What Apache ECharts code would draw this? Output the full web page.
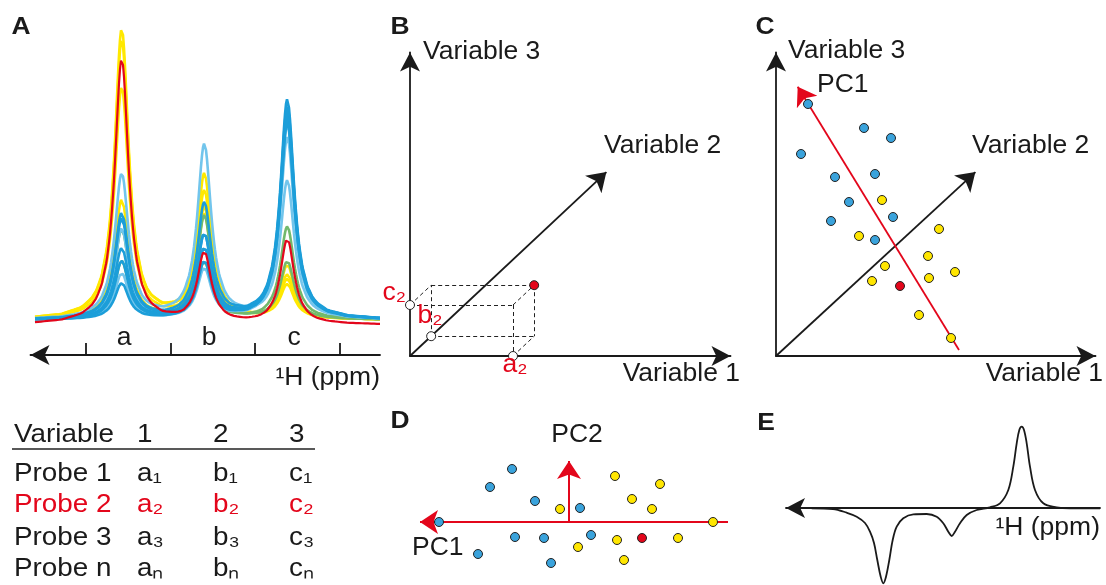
<!DOCTYPE html>
<html><head><meta charset="utf-8">
<script src="https://cdn.jsdelivr.net/npm/echarts@6/dist/echarts.min.js"></script>
<style>html,body{margin:0;padding:0;background:#fff}#chart{width:1106px;height:585px}</style>
</head><body><div id="chart"></div>
<script>
// ===== Panel A: 1H NMR spectra (peak heights, intensity units) =====
const YEL = '#ffe800', GRN = '#72b96c', LBL = '#72c5ec', BLU = '#1c9ed9', RED = '#e3061b';
const specColors = [YEL, YEL, YEL, YEL, GRN, GRN, LBL, LBL, LBL, BLU, BLU, BLU, BLU, BLU, RED];
const peakPos   = [8.67, 16.93, 25.23];            // centres of peaks a, b, c
const peakA     = [29.1, 28.0, 23.3, 12.0, 9.1, 5.8, 14.5, 9.1, 4.6, 10.6, 10.1, 7.1, 5.8, 3.6, 26.6];
const peakB     = [12.7, 14.4, 10.4, 11.2, 5.7, 10.4, 17.4, 7.0, 5.0, 11.5, 8.4, 8.4, 7.0, 5.7, 7.0];
const peakC     = [3.4, 3.9, 4.4, 5.4, 9.3, 5.8, 13.8, 19.6, 18.3, 22.0, 21.3, 20.8, 20.3, 19.8, 8.5];
const baseShift = [0, 0, 0, 0, 0, 0, 0, 0, 0, 0, 0, 0, 0, 0, -0.5];
// peak profile: relative height vs distance from the peak centre
const profileDist = [0, 0.1, 0.2, 0.3, 0.4, 0.5, 0.6, 0.7, 0.8, 1.0, 1.2, 1.5, 2.0, 2.5, 3.0, 4.0, 6.0, 9.0, 13, 18, 26, 35];
const profileRel  = [1, 0.986, 0.946, 0.887, 0.815, 0.738, 0.662, 0.59, 0.524, 0.414, 0.329, 0.239, 0.15, 0.101, 0.0727, 0.0422, 0.0192, 0.0086, 0.0042, 0.0022, 0.001, 0.0006];
const ppmTicks = [5.55, 14.05, 22.45, 30.95];
const peakLabels = ['a', 'b', 'c'];

// ===== Table =====
const tableHeader = ['Variable', '1', '2', '3'];
const tableRows = [
  ['Probe 1', 'a\u2081', 'b\u2081', 'c\u2081'],
  ['Probe 2', 'a\u2082', 'b\u2082', 'c\u2082'],
  ['Probe 3', 'a\u2083', 'b\u2083', 'c\u2083'],
  ['Probe n', 'a\u2099', 'b\u2099', 'c\u2099']
];
const rowColors = ['#1a1a1a', RED, '#1a1a1a', '#1a1a1a'];

// ===== Panel B: probe 2 in variable space =====
const probe2 = { v1: 10.3, v2: 2.9, v3: 5.1 };
const v2AxisEndB = [19.64, 18.39];
const v2Dir = [0.730, 0.683];

// ===== Panel C: scores in variable space =====
const cBlue   = [[3.2,25.2],[8.8,22.8],[11.5,21.8],[2.5,20.2],[5.9,17.9],[9.9,18.2],[7.3,15.4],[11.7,13.9],[5.5,13.5],[9.9,11.6]];
const cYellow = [[10.6,15.6],[16.3,12.7],[8.3,12.0],[15.2,10.0],[10.9,9.0],[17.9,8.4],[15.3,7.8],[9.6,7.5],[14.3,4.1],[17.5,1.8]];
const cRed    = [[12.4,7.0]];
const v2AxisEndC = [19.94, 18.39];
const pc1LineC = [[18.3, 0.6], [2.17, 26.93]];

// ===== Panel D: PCA scores =====
const dBlue   = [[-13.0,0],[-7.9,3.5],[-5.7,5.3],[-3.4,2.1],[1.1,1.4],[-5.4,-1.5],[-2.5,-1.6],[2.2,-1.3],[-9.1,-3.2],[-1.8,-4.1]];
const dYellow = [[-0.9,1.3],[4.6,4.6],[9.1,3.8],[6.3,2.3],[8.3,1.3],[14.4,0],[4.8,-1.8],[10.9,-1.6],[0.9,-2.5],[5.5,-3.8]];
const dRed    = [[7.3,-1.6]];
const pc1LineD = [[15.9, 0], [-14.9, 0]];
const pc2LineD = [[0, 0], [0, 6.1]];

// ===== Panel E: PC1 loading spectrum =====
const eLoading = [[2.57,-0.03],[4.7,-0.1],[6.07,-0.47],[7.07,-0.87],[7.9,-1.5],[8.4,-2.37],[8.8,-3.5],[9.13,-5.2],[9.47,-6.87],[9.73,-7.53],
  [10.0,-6.87],[10.33,-5.2],[10.67,-3.2],[11.07,-1.87],[11.73,-1.03],[12.73,-0.63],[14.07,-0.6],[15.07,-0.87],[15.73,-1.53],[16.23,-2.37],
  [16.57,-2.8],[16.9,-2.37],[17.4,-1.53],[18.07,-0.7],[19.07,-0.2],[20.4,0.07],[21.4,0.47],[22.23,1.8],[22.73,4.13],[23.07,6.47],
  [23.33,7.8],[23.57,8.13],[23.8,7.8],[24.07,6.47],[24.4,4.13],[24.9,1.8],[25.73,0.47],[27.07,0.07],[28.4,-0.03],[31.4,-0.03]];

// ---------------------------------------------------------------
const FONT = "'Liberation Sans', Arial, Helvetica, sans-serif";
const INK = '#1a1a1a';
function shape(d) {
  d = Math.abs(d);
  for (let i = 1; i < profileDist.length; i++) {
    if (d <= profileDist[i]) {
      const t = (d - profileDist[i - 1]) / (profileDist[i] - profileDist[i - 1]);
      return profileRel[i - 1] + t * (profileRel[i] - profileRel[i - 1]);
    }
  }
  return profileRel[profileRel.length - 1];
}
function txt(t, x, y, o) {
  o = o || {};
  const al = o.align || 'left';
  return { type: 'text', x: x, y: y, scaleX: o.sx || 1.06, z: 100, silent: true,
    style: { text: t, fill: o.color || INK, font: (o.bold ? 'bold ' : '') + (o.size || 25) + 'px ' + FONT,
      align: al, verticalAlign: 'middle', textAlign: al, textVerticalAlign: 'middle' } };
}

const series = [];
const xs = []; for (let i = 0; i <= 345; i++) xs.push(i / 10);
specColors.forEach(function (col, k) {
  const data = xs.map(function (x) {
    return [x, baseShift[k] + peakA[k] * shape(x - peakPos[0]) + peakB[k] * shape(x - peakPos[1]) + peakC[k] * shape(x - peakPos[2])];
  });
  series.push({ type: 'line', xAxisIndex: 0, yAxisIndex: 0, data: data, symbol: 'none', silent: true,
    lineStyle: { color: col, width: col === RED ? 2.2 : 2.6 }, z: 2 + k * 0.01 });
});

function arrowLine(ai, pts, color, width, size) {
  return { type: 'lines', coordinateSystem: 'cartesian2d', xAxisIndex: ai, yAxisIndex: ai, silent: true, z: 3,
    symbol: ['none', 'arrow'], symbolSize: size,
    lineStyle: { color: color, width: width, opacity: 1, curveness: 0 },
    data: [{ coords: pts }] };
}
function dots(ai, data, fill, z) {
  return { type: 'scatter', xAxisIndex: ai, yAxisIndex: ai, data: data, symbolSize: 9, silent: true, z: z || 5,
    itemStyle: { color: fill, borderColor: '#222', borderWidth: 1, opacity: 1 } };
}

// B
const A2 = [probe2.v1, 0], C2 = [0, probe2.v3], B2 = [probe2.v2 * v2Dir[0], probe2.v2 * v2Dir[1]];
const add = function () { let s = [0, 0]; for (const p of arguments) { s[0] += p[0]; s[1] += p[1]; } return s; };
const AC = add(A2, C2), AB = add(A2, B2), BC = add(B2, C2), R2 = add(A2, B2, C2);
series.push(arrowLine(2, [[0, 0], v2AxisEndB], INK, 1.8, 18));
series.push({ type: 'lines', coordinateSystem: 'cartesian2d', xAxisIndex: 2, yAxisIndex: 2, silent: true, z: 2,
  lineStyle: { color: '#222', width: 1, type: [4, 3], opacity: 1 },
  data: [[C2, AC], [AC, A2], [C2, BC], [BC, R2], [R2, AB], [AC, R2], [A2, AB], [B2, AB], [B2, BC]].map(function (c) { return { coords: c }; }) });
series.push(dots(2, [A2, B2, C2], '#ffffff', 6));
series.push(dots(2, [R2], RED, 6));

// C
series.push(arrowLine(3, [[0, 0], v2AxisEndC], INK, 1.8, 18));
series.push(arrowLine(3, pc1LineC, RED, 1.8, 18));
series.push(dots(3, cBlue, '#3aa3dc'));
series.push(dots(3, cYellow, '#ffe600'));
series.push(dots(3, cRed, RED));

// D
series.push(arrowLine(4, pc1LineD, RED, 2, 18));
series.push(arrowLine(4, pc2LineD, RED, 2, 18));
series.push(dots(4, dBlue, '#3aa3dc'));
series.push(dots(4, dYellow, '#ffe600'));
series.push(dots(4, dRed, RED));

// E
series.push({ type: 'line', xAxisIndex: 5, yAxisIndex: 5, data: eLoading, smooth: 0.35, symbol: 'none', silent: true,
  lineStyle: { color: INK, width: 1.8 }, z: 3 });

const hidden = function (gi, min, max) { return { type: 'value', gridIndex: gi, min: min, max: max, show: false }; };
const arrowAxis = function (gi, min, max, sym) {
  return { type: 'value', gridIndex: gi, min: min, max: max,
    axisLine: { show: true, onZero: true, symbol: sym, symbolSize: [15, 19], lineStyle: { color: INK, width: 1.8 } },
    axisTick: { show: false }, axisLabel: { show: false }, splitLine: { show: false } };
};

const ppmAxis = arrowAxis(1, 0, 34.95, ['arrow', 'none']);
ppmAxis.axisTick = { show: true, inside: true, length: 12, customValues: ppmTicks, lineStyle: { color: INK, width: 1.8 } };

// labels
const graphics = [];
[['A', 21, 27], ['B', 400, 27], ['C', 765, 27], ['D', 400, 421], ['E', 766, 423]].forEach(function (p) {
  graphics.push(txt(p[0], p[1], p[2], { bold: true, size: 24, align: 'center', sx: 1.1 }));
});
[[124, 338], [209, 338], [294, 338]].forEach(function (p, i) { graphics.push(txt(peakLabels[i], p[0], p[1], { align: 'center' })); });
graphics.push(txt('\u00B9H (ppm)', 380, 378, { align: 'right' }));
graphics.push(txt('Variable 3', 423, 52));
graphics.push(txt('Variable 2', 604, 146));
graphics.push(txt('Variable 1', 740, 374, { align: 'right' }));
graphics.push(txt('c\u2082', 406, 293, { align: 'right', color: RED }));
graphics.push(txt('b\u2082', 430, 316, { align: 'center', color: RED }));
graphics.push(txt('a\u2082', 515, 365, { align: 'center', color: RED }));
graphics.push(txt('Variable 3', 788, 51));
graphics.push(txt('PC1', 817, 85));
graphics.push(txt('Variable 2', 972, 146));
graphics.push(txt('Variable 1', 1103, 374, { align: 'right' }));
graphics.push(txt('PC2', 577, 435, { align: 'center' }));
graphics.push(txt('PC1', 412, 548));
graphics.push(txt('\u00B9H (ppm)', 1100, 528, { align: 'right' }));
const colX = [14, 137, 213, 289];
tableHeader.forEach(function (t, i) { graphics.push(txt(t, colX[i], 435, { size: 26, sx: 1.07 })); });
const rowY = [474, 505, 538, 569];
tableRows.forEach(function (row, r) {
  row.forEach(function (t, i) { graphics.push(txt(t, colX[i], rowY[r], { size: 26, sx: 1.07, color: rowColors[r] })); });
});
graphics.push({ type: 'line', z: 100, silent: true, shape: { x1: 12, y1: 449, x2: 315, y2: 449 }, style: { stroke: '#222', lineWidth: 1.5 } });

const chart = echarts.init(document.getElementById('chart'), null, { renderer: 'canvas' });
chart.setOption({
  backgroundColor: '#ffffff',
  animation: false,
  grid: [
    { left: 35, top: 20, width: 345, height: 305 },
    { left: 30.5, top: 300, width: 349.5, height: 55 },
    { left: 410, top: 52.5, width: 320.5, height: 303.5 },
    { left: 776, top: 52.5, width: 319.5, height: 303.5 },
    { left: 400, top: 440, width: 340, height: 140 },
    { left: 786, top: 418, width: 314, height: 167 }
  ],
  xAxis: [
    hidden(0, 0, 34.5),
    ppmAxis,
    arrowAxis(2, 0, 32.05, ['none', 'arrow']),
    arrowAxis(3, 0, 31.95, ['none', 'arrow']),
    hidden(4, -16.9, 17.1),
    arrowAxis(5, 0, 31.4, ['arrow', 'none'])
  ],
  yAxis: [
    hidden(0, -0.5, 30),
    hidden(1, 0, 1),
    arrowAxis(2, 0, 30.35, ['none', 'arrow']),
    arrowAxis(3, 0, 30.35, ['none', 'arrow']),
    hidden(4, -5.8, 8.2),
    hidden(5, -7.7, 9.0)
  ],
  series: series,
  graphic: { elements: graphics }
});
</script></body></html>
